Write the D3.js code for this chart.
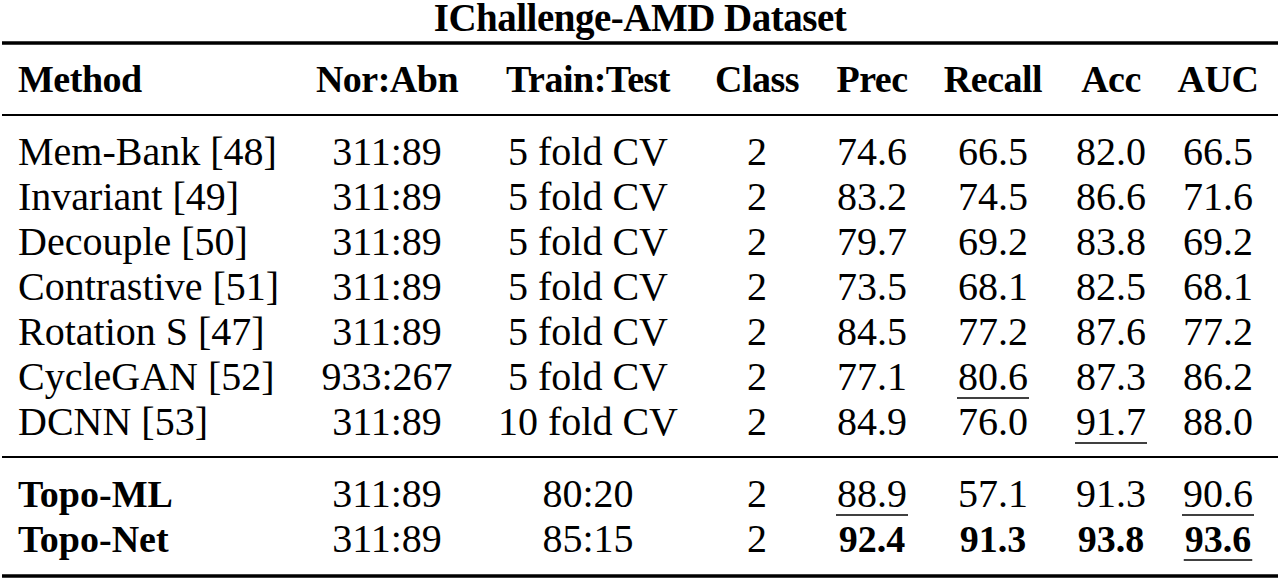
<!DOCTYPE html>
<html><head><meta charset="utf-8">
<script src="https://cdn.jsdelivr.net/npm/d3@7"></script>
<style>body{margin:0;background:#fff}</style></head>
<body><svg id="c" width="1280" height="582"></svg>
<script>
const title = "IChallenge-AMD Dataset";
const columns = ["Method","Nor:Abn","Train:Test","Class","Prec","Recall","Acc","AUC"];
const methods = ["Mem-Bank [48]","Invariant [49]","Decouple [50]","Contrastive [51]","Rotation S [47]","CycleGAN [52]","DCNN [53]","Topo-ML","Topo-Net"];
const norAbn = ["311:89","311:89","311:89","311:89","311:89","933:267","311:89","311:89","311:89"];
const trainTest = ["5 fold CV","5 fold CV","5 fold CV","5 fold CV","5 fold CV","5 fold CV","10 fold CV","80:20","85:15"];
const classes = ["2","2","2","2","2","2","2","2","2"];
const prec = ["74.6","83.2","79.7","73.5","84.5","77.1","84.9","88.9","92.4"];
const recall = ["66.5","74.5","69.2","68.1","77.2","80.6","76.0","57.1","91.3"];
const acc = ["82.0","86.6","83.8","82.5","87.6","87.3","91.7","91.3","93.8"];
const auc = ["66.5","71.6","69.2","68.1","77.2","86.2","88.0","90.6","93.6"];
const underlined = [[5,5],[6,6],[7,4],[7,7],[8,7]];
const boldRows = [7,8];
const boldMetricRows = [8];

const svg = d3.select("#c");
const font = "'Liberation Serif','DejaVu Serif',serif";
const colX = d3.scaleOrdinal().domain(columns).range([18,387,588,757,872,993,1111,1218]);
const rowY = d3.scaleOrdinal().domain(d3.range(9)).range([165,210,255,300,345,390,435,507,552]);
const cols = [methods,norAbn,trainTest,classes,prec,recall,acc,auc];

svg.append("text").attr("x",640).attr("y",31).attr("text-anchor","middle")
  .attr("font-family",font).attr("font-weight","bold").attr("font-size",39).attr("letter-spacing",-0.5).text(title);

const rule=(y,w)=>svg.append("line").attr("x1",2).attr("x2",1278).attr("y1",y).attr("y2",y).attr("stroke","#000").attr("stroke-width",w);
rule(43,3.5); rule(115,1.8); rule(457,1.8); rule(576,3.5);

columns.forEach((c,i)=>{
  svg.append("text").attr("x",colX(c)).attr("y",92).attr("text-anchor",i===0?"start":"middle")
    .attr("font-family",font).attr("font-weight","bold").attr("font-size",38).attr("letter-spacing",-0.5).text(c);
});

cols.forEach((arr,ci)=>{
  arr.forEach((v,ri)=>{
    const bold = (ci===0 && boldRows.includes(ri)) || (ci>=4 && boldMetricRows.includes(ri));
    const t = svg.append("text").attr("x",colX(columns[ci])).attr("y",rowY(ri))
      .attr("text-anchor",ci===0?"start":"middle").attr("font-family",font)
      .attr("font-weight",bold?"bold":"normal").attr("font-size",bold?38:40).text(v);
    if(underlined.some(u=>u[0]===ri&&u[1]===ci)){
      const b=t.node().getBBox();
      svg.append("line").attr("x1",b.x-1).attr("x2",b.x+b.width+1)
        .attr("y1",rowY(ri)+8).attr("y2",rowY(ri)+8).attr("stroke","#000").attr("stroke-width",1.6);
    }
  });
});
</script></body></html>
